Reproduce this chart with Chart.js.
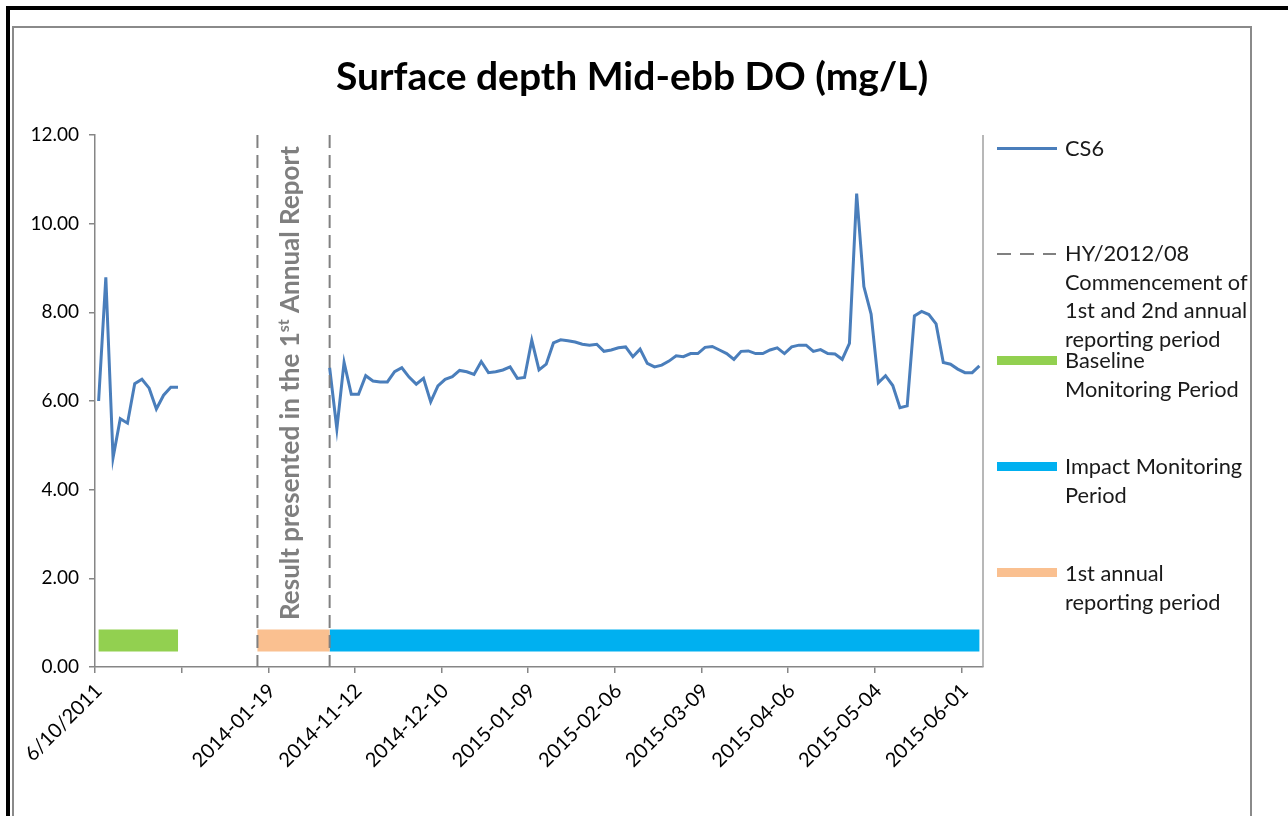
<!DOCTYPE html>
<html>
<head>
<meta charset="utf-8">
<script src="https://cdn.jsdelivr.net/npm/chart.js@4.4.1/dist/chart.umd.min.js"></script>
<style>
  html, body { margin: 0; padding: 0; background: #fff; }
  body { width: 1288px; height: 816px; position: relative; overflow: hidden; font-family: Lato, sans-serif; }
  .frame-outer { position: absolute; left: 6px; top: 6px; width: 1400px; height: 900px; border-top: 4px solid #000; border-left: 4px solid #000; }
  .frame-inner { position: absolute; left: 12px; top: 26px; width: 1236px; height: 900px; border: 2px solid #8a8a8a; }
  .chart-box { position: absolute; left: 12px; top: 0; width: 1240px; height: 816px; }
  .title { position: absolute; left: 12px; width: 1240px; top: 51px; line-height: 48px; text-align: center; font-size: 39px; font-weight: bold; color: #000; white-space: nowrap; }
  .swatch { position: absolute; left: 997px; width: 60px; }
  .legend-text { position: absolute; left: 1065px; font-size: 21.8px; line-height: 28.5px; color: #1a1a1a; white-space: nowrap; }
</style>
</head>
<body>
<div class="frame-outer"></div>
<div class="frame-inner"></div>
<div class="chart-box"><canvas id="do-chart"></canvas></div>
<div class="title">Surface depth Mid-ebb DO (mg/L)</div>

<div class="swatch" style="top:147px;height:3px;background:#4a7ebb;"></div>
<div class="legend-text" style="top:134px;">CS6</div>

<div class="swatch" style="top:253px;height:2px;width:59px;background:repeating-linear-gradient(to right,#808080 0 14px,transparent 14px 23px);"></div>
<div class="legend-text" style="top:239px;">HY/2012/08<br>Commencement of<br>1st and 2nd annual<br>reporting period</div>

<div class="swatch" style="top:356px;height:9px;background:#92d050;"></div>
<div class="legend-text" style="top:346px;">Baseline<br>Monitoring Period</div>

<div class="swatch" style="top:462px;height:9px;background:#00b0f0;"></div>
<div class="legend-text" style="top:452px;">Impact Monitoring<br>Period</div>

<div class="swatch" style="top:568px;height:9px;background:#fac090;"></div>
<div class="legend-text" style="top:559px;">1st annual<br>reporting period</div>

<script>
// DO readings at CS6, baseline survey then impact monitoring
const baselineDO = [6.00, 8.79, 4.72, 5.60, 5.50, 6.39, 6.49, 6.29, 5.82, 6.13, 6.31, 6.31];
const gapCount = 20;
const impactDO = [
  6.75, 5.37, 6.87, 6.15, 6.15, 6.57, 6.45, 6.43, 6.43, 6.66,
  6.75, 6.54, 6.38, 6.51, 5.98, 6.34, 6.49, 6.55, 6.69, 6.66,
  6.60, 6.89, 6.64, 6.66, 6.70, 6.77, 6.51, 6.53, 7.37, 6.70,
  6.83, 7.31, 7.38, 7.36, 7.33, 7.28, 7.26, 7.28, 7.12, 7.15,
  7.20, 7.22, 7.00, 7.17, 6.85, 6.77, 6.81, 6.90, 7.02, 7.00,
  7.07, 7.07, 7.21, 7.23, 7.15, 7.07, 6.94, 7.12, 7.13, 7.07,
  7.07, 7.15, 7.20, 7.07, 7.22, 7.26, 7.26, 7.12, 7.16, 7.07,
  7.06, 6.94, 7.30, 10.68, 8.58, 7.96, 6.41, 6.57, 6.35, 5.85,
  5.89, 7.92, 8.02, 7.95, 7.74, 6.87, 6.83, 6.72, 6.64, 6.64,
  6.79,
];

// one label every 12 categories
const tickLabels = ['6/10/2011', '', '2014-01-19', '2014-11-12', '2014-12-10', '2015-01-09',
  '2015-02-06', '2015-03-09', '2015-04-06', '2015-05-04', '2015-06-01'];
const labelEvery = 12;

// period bars: [first category, last category]
const baselinePeriod = [0, 11];
const reportPeriod = [22, 32];
const impactPeriod = [32, 122];
const periodLevel = 0.6;

// HY/2012/08 markers
const markerCats = [22, 32];

const cs6 = [...baselineDO, ...Array(gapCount).fill(null), ...impactDO];
const labels = cs6.map((_, i) => (i % labelEvery === 0 ? tickLabels[i / labelEvery] : ''));

function periodData([from, to]) {
  return cs6.map((_, i) => (i >= from && i <= to ? periodLevel : null));
}

function periodSet(range, color) {
  return {
    data: periodData(range),
    borderColor: color,
    backgroundColor: color,
    borderWidth: 22,
    borderCapStyle: 'butt',
    pointRadius: 0,
    spanGaps: false,
    tension: 0,
  };
}

const axisGrey = '#868686';

const overlay = {
  id: 'overlay',
  afterDatasetsDraw(chart) {
    const { ctx, chartArea, scales: { x, y } } = chart;
    ctx.save();
    // plot area right edge
    ctx.strokeStyle = '#a0a0a0';
    ctx.lineWidth = 1.5;
    ctx.beginPath();
    ctx.moveTo(chartArea.right, chartArea.top);
    ctx.lineTo(chartArea.right, chartArea.bottom);
    ctx.stroke();

    // dashed markers
    ctx.strokeStyle = '#808080';
    ctx.lineWidth = 2;
    ctx.setLineDash([13, 7]);
    markerCats.forEach((cat) => {
      const px = x.getPixelForValue(cat);
      ctx.beginPath();
      ctx.moveTo(px, chartArea.top);
      ctx.lineTo(px, chartArea.bottom);
      ctx.stroke();
    });
    ctx.setLineDash([]);

    // rotated note between markers
    const mid = (x.getPixelForValue(markerCats[0]) + x.getPixelForValue(markerCats[1])) / 2;
    ctx.translate(mid + 5, y.getPixelForValue(1.06));
    ctx.rotate(-Math.PI / 2);
    ctx.fillStyle = '#7f7f7f';
    ctx.textAlign = 'left';
    ctx.textBaseline = 'alphabetic';
    ctx.font = 'bold 26px Lato';
    let pos = 0;
    const part1 = 'Result presented in the 1';
    ctx.fillText(part1, pos, 0);
    pos += ctx.measureText(part1).width;
    ctx.font = 'bold 16px Lato';
    ctx.fillText('st', pos, -10);
    pos += ctx.measureText('st').width;
    ctx.font = 'bold 26px Lato';
    ctx.fillText(' Annual Report', pos, 0);
    ctx.restore();
  },
};

new Chart(document.querySelector('#do-chart'), {
  type: 'line',
  data: {
    labels,
    datasets: [
      periodSet(baselinePeriod, '#92d050'),
      periodSet(reportPeriod, '#fac090'),
      periodSet(impactPeriod, '#00b0f0'),
      {
        label: 'CS6',
        data: cs6,
        borderColor: '#4a7ebb',
        backgroundColor: '#4a7ebb',
        borderWidth: 3,
        pointRadius: 0,
        tension: 0,
        spanGaps: false,
      },
    ],
  },
  options: {
    responsive: true,
    maintainAspectRatio: false,
    animation: false,
    devicePixelRatio: 1,
    layout: { padding: { top: 135, left: 0, right: 269, bottom: 0 } },
    plugins: {
      legend: { display: false },
      tooltip: { enabled: false },
      title: { display: false },
    },
    scales: {
      x: {
        type: 'category',
        offset: true,
        afterFit: (scale) => { scale.height = 149; },
        border: { display: true, color: axisGrey, width: 1.5 },
        grid: {
          offset: true,
          drawOnChartArea: false,
          drawTicks: true,
          tickLength: 6,
          lineWidth: 1.5,
          color: (ctx) => (ctx.index !== undefined && ctx.index % labelEvery === 0 ? axisGrey : 'rgba(0,0,0,0)'),
        },
        ticks: {
          autoSkip: false,
          minRotation: 45,
          maxRotation: 45,
          padding: 6,
          color: '#000',
          font: { family: 'Lato', size: 20 },
        },
      },
      y: {
        min: 0,
        max: 12,
        afterFit: (scale) => { scale.width = 83; },
        border: { display: true, color: axisGrey, width: 1.5 },
        grid: { drawOnChartArea: false, drawTicks: true, tickLength: 6, color: axisGrey, lineWidth: 1.5 },
        ticks: {
          stepSize: 2,
          padding: 10,
          color: '#000',
          font: { family: 'Lato', size: 19 },
          callback: (value) => Number(value).toFixed(2),
        },
      },
    },
  },
  plugins: [overlay],
});
</script>
</body>
</html>
